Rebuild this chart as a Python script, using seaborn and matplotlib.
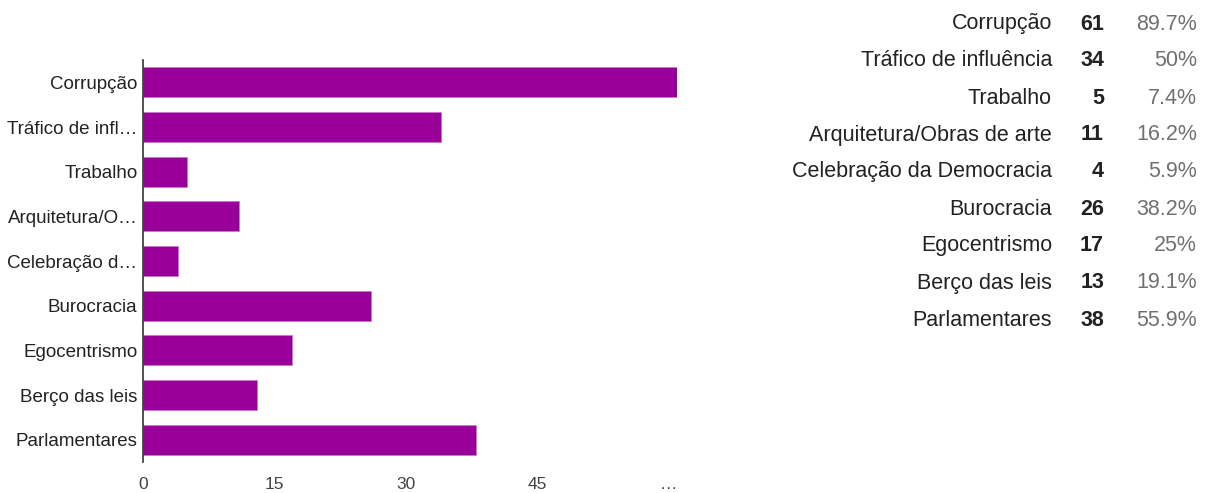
import matplotlib
matplotlib.use("Agg")
import matplotlib.pyplot as plt
import seaborn as sns
import pandas as pd

categories = [
    "Corrupção",
    "Tráfico de influência",
    "Trabalho",
    "Arquitetura/Obras de arte",
    "Celebração da Democracia",
    "Burocracia",
    "Egocentrismo",
    "Berço das leis",
    "Parlamentares",
]
axis_labels = [
    "Corrupção",
    "Tráfico de infl…",
    "Trabalho",
    "Arquitetura/O…",
    "Celebração d…",
    "Burocracia",
    "Egocentrismo",
    "Berço das leis",
    "Parlamentares",
]
counts = [61, 34, 5, 11, 4, 26, 17, 13, 38]
percents = ["89.7%", "50%", "7.4%", "16.2%", "5.9%", "38.2%", "25%", "19.1%", "55.9%"]
x_ticks = [0, 15, 30, 45, 60]
x_tick_labels = ["0", "15", "30", "45", "…"]

sns.set_style("white")
plt.rcParams["font.family"] = ["Liberation Sans", "DejaVu Sans"]

W, H = 1207, 493
fig = plt.figure(figsize=(W / 100, H / 100), dpi=100)

left, right, top, bottom = 143, 677, 60, 462
ax = fig.add_axes([left / W, 1 - bottom / H, (right - left) / W, (bottom - top) / H])

df = pd.DataFrame({"cat": axis_labels, "n": counts})
sns.barplot(data=df, x="n", y="cat", orient="h", color="#990099",
            saturation=1, width=0.67, edgecolor="#c77cc7", linewidth=0.6, ax=ax)

ax.set_xlim(0, 61)
ax.set_ylim(len(categories) - 0.5, -0.5)
ax.set_xticks(x_ticks)
ax.set_xticklabels(x_tick_labels, fontsize=12.5, color="#444444")
ax.set_yticklabels(axis_labels, fontsize=13.5, color="#222222")
ax.tick_params(axis="both", length=0)
ax.tick_params(axis="x", pad=11)
ax.tick_params(axis="y", pad=4)
ax.set_xlabel("")
ax.set_ylabel("")
for s in ["top", "right", "bottom"]:
    ax.spines[s].set_visible(False)
ax.spines["left"].set_color("#333333")
ax.spines["left"].set_linewidth(1.2)

# summary table on the right
row0, step = 24, 37
for i, (c, n, p) in enumerate(zip(categories, counts, percents)):
    y = 1 - (row0 + i * step) / H
    fig.text(1052 / W, y, c, ha="right", va="center", fontsize=15.5, color="#222222")
    fig.text(1104 / W, y, str(n), ha="right", va="center", fontsize=15.5,
             fontweight="bold", color="#222222")
    fig.text(1197 / W, y, p, ha="right", va="center", fontsize=15.5, color="#707070")

fig.savefig("out.png", dpi=100)
